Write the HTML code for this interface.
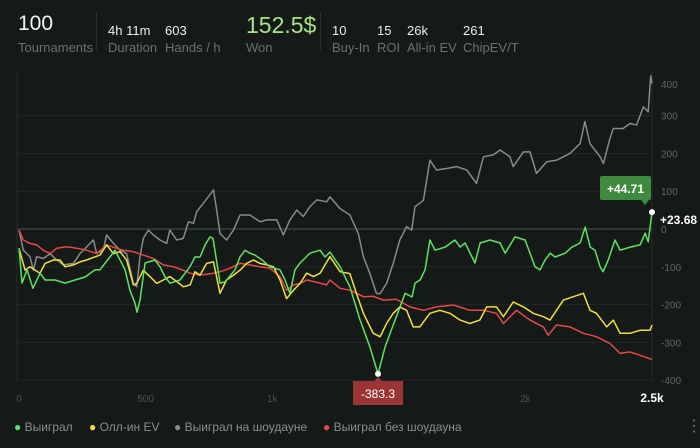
<!DOCTYPE html>
<html><head><meta charset="utf-8">
<style>
html,body{margin:0;padding:0;background:#151917;}
body{width:700px;height:448px;overflow:hidden;position:relative;font-family:"Liberation Sans","Noto Sans CJK SC",sans-serif;}
.t{position:absolute;white-space:nowrap;}
.big{color:#f2f2f2;font-size:21px;}
.val{color:#eee;font-size:13px;}
.lab{color:#6c716e;font-size:13px;}
.div{position:absolute;width:1px;background:#2c312e;top:12px;height:38px;}
</style></head>
<body>
<div>
<div class="t big" style="left:18px;top:12px;">100</div>
<div class="t lab" style="left:18px;top:40px;">Tournaments</div>
<div class="div" style="left:96px"></div>
<div class="t val" style="left:108px;top:23px;">4h 11m</div>
<div class="t lab" style="left:108px;top:40px;">Duration</div>
<div class="t val" style="left:165px;top:23px;">603</div>
<div class="t lab" style="left:165px;top:40px;">Hands / h</div>
<div class="t" style="left:246px;top:12px;color:#a6e583;font-size:23px;">152.5$</div>
<div class="t lab" style="left:246px;top:40px;">Won</div>
<div class="div" style="left:320px"></div>
<div class="t val" style="left:332px;top:23px;">10</div>
<div class="t lab" style="left:332px;top:40px;">Buy-In</div>
<div class="t val" style="left:377px;top:23px;">15</div>
<div class="t lab" style="left:377px;top:40px;">ROI</div>
<div class="t val" style="left:407px;top:23px;">26k</div>
<div class="t lab" style="left:407px;top:40px;">All-in EV</div>
<div class="t val" style="left:463px;top:23px;">261</div>
<div class="t lab" style="left:463px;top:40px;">ChipEV/T</div>
</div>

<svg id="chart" width="700" height="448" style="position:absolute;left:0;top:0"></svg>

<div style="position:absolute;left:0;top:420px;font-size:12px;color:#8b908d;">
<div class="t" style="left:14px;"><span style="color:#5fe35f">●</span> Выиграл</div>
<div class="t" style="left:89px;"><span style="color:#f0e040">●</span> Олл-ин EV</div>
<div class="t" style="left:174px;"><span style="color:#8a8a8a">●</span> Выиграл на шоудауне</div>
<div class="t" style="left:323px;"><span style="color:#e84848">●</span> Выиграл без шоудауна</div>
<div class="t" style="left:686px;top:-4px;font-size:16px;color:#777;">⋮</div>
</div>

<script>
const yTicks=[400,300,200,100,0,-100,-200,-300,-400];
const xTicks=[0,500,1000,2000,2500];
const xTickLabels=["0","500","1k","2k","2.5k"];
const greenHands=[0,12,32,55,83,103,142,182,221,261,300,320,359,379,419,438,458,466,478,498,537,557,577,596,636,675,695,715,735,754,766,786,794,814,853,873,893,912,932,960,991,1031,1051,1070,1090,1110,1149,1189,1209,1228,1268,1307,1347,1386,1418,1446,1485,1505,1525,1552,1564,1584,1604,1623,1643,1683,1722,1742,1762,1801,1821,1860,1900,1920,1959,1999,2038,2058,2078,2098,2117,2157,2184,2216,2236,2256,2275,2295,2307,2327,2354,2374,2414,2453,2473,2485,2500];
const greenValues=[-50,-143,-108,-157,-117,-135,-135,-143,-135,-127,-108,-108,-74,-56,-108,-162,-196,-220,-188,-90,-82,-100,-127,-143,-135,-100,-74,-74,-42,-21,-25,-108,-143,-140,-108,-74,-56,-64,-69,-82,-100,-108,-135,-170,-108,-90,-64,-56,-74,-61,-100,-153,-241,-312,-383.3,-312,-241,-206,-170,-180,-143,-135,-108,-29,-56,-48,-29,-48,-37,-90,-37,-29,-37,-64,-21,-29,-100,-108,-82,-64,-74,-64,-48,-37,5,-48,-56,-100,-113,-82,-29,-56,-48,-42,-11,-34,44.71];
const yellowHands=[0,24,43,83,103,136,162,182,215,241,267,294,320,346,373,399,425,452,465,491,517,544,570,596,623,649,676,695,715,741,768,794,820,847,873,899,926,952,978,1005,1031,1057,1084,1110,1136,1163,1189,1228,1268,1307,1333,1360,1399,1426,1452,1478,1504,1531,1557,1583,1623,1662,1702,1742,1781,1820,1847,1886,1913,1952,1992,2031,2071,2097,2123,2150,2189,2229,2255,2281,2321,2347,2374,2413,2453,2492,2500];
const yellowValues=[-51,-109,-100,-117,-91,-82,-82,-100,-95,-87,-82,-75,-69,-42,-65,-60,-82,-148,-144,-109,-126,-144,-135,-126,-139,-153,-148,-113,-122,-91,-87,-170,-135,-122,-109,-91,-82,-91,-95,-100,-135,-184,-162,-144,-117,-126,-117,-73,-113,-118,-171,-223,-276,-285,-250,-223,-206,-215,-259,-259,-223,-215,-223,-241,-250,-241,-206,-206,-232,-193,-206,-223,-232,-241,-215,-188,-179,-170,-215,-223,-259,-241,-276,-276,-268,-268,-254];
const grayHands=[0,17,43,57,70,96,123,149,175,215,241,281,294,307,333,346,373,399,425,452,465,478,491,511,531,557,583,596,623,649,669,689,702,728,768,781,794,820,847,873,912,952,978,1018,1044,1070,1097,1123,1149,1176,1215,1228,1268,1307,1340,1360,1386,1412,1426,1452,1478,1504,1531,1551,1564,1597,1623,1649,1689,1728,1768,1807,1834,1873,1900,1939,1952,1992,2018,2044,2084,2123,2176,2216,2235,2255,2295,2308,2334,2347,2386,2413,2439,2466,2485,2495,2500];
const grayValues=[-3,-56,-73,-109,-73,-78,-65,-82,-95,-91,-65,-38,-29,-65,-56,-16,-38,-56,-65,-144,-153,-73,-25,-3,-16,-29,-38,-3,-29,-25,19,15,46,68,103,50,-12,-29,-3,37,37,19,24,24,-16,24,50,33,59,77,72,85,54,37,-12,-73,-118,-171,-171,-144,-91,-29,6,-3,59,76,182,156,160,165,156,121,191,196,209,191,165,204,204,147,178,182,200,226,284,226,191,173,240,266,266,279,275,323,310,405,385];
const redHands=[0,17,43,70,96,123,149,188,228,267,307,346,386,412,452,491,531,570,610,649,676,715,768,794,833,873,912,952,991,1031,1057,1084,1110,1136,1163,1215,1228,1268,1307,1360,1399,1439,1491,1544,1597,1649,1715,1781,1834,1886,1913,1965,2018,2071,2090,2123,2176,2229,2281,2334,2374,2413,2453,2500];
const redValues=[-3,-29,-38,-42,-56,-65,-51,-47,-51,-56,-65,-42,-51,-56,-60,-69,-78,-95,-100,-109,-117,-122,-117,-113,-104,-91,-95,-100,-104,-126,-162,-148,-144,-135,-139,-148,-135,-157,-162,-179,-178,-188,-186,-206,-215,-206,-201,-215,-215,-223,-250,-215,-241,-259,-281,-254,-259,-276,-285,-303,-329,-325,-334,-345];

const svg=document.getElementById('chart');
const NS='http://www.w3.org/2000/svg';
const X0=19,X1=652,Y0=229,PX=0.378;
function xs(h){return X0+h*(X1-X0)/2500;}
function ys(v){return Y0-v*PX;}
function mk(tag,attrs){const e=document.createElementNS(NS,tag);for(const k in attrs)e.setAttribute(k,attrs[k]);svg.appendChild(e);return e;}

let e=mk('line',{x1:17,x2:17,y1:72,y2:382,stroke:'#262b28'});


e=mk('line',{x1:X1,x2:X1,y1:72,y2:382,stroke:'#262b28'});


yTicks.forEach(v=>{
  const y=ys(v);
  if(v!==400){
    const g=mk('line',{x1:17,x2:X1,y1:y,y2:y,stroke:v===0?'#3b403d':'#232826','stroke-width':v===0?1.5:1});
    
    
  }
  const t=mk('text',{x:661,y:(v===400?ys(v)+10:y+4),fill:'#62676a','font-size':'10','font-family':'Liberation Sans, sans-serif'});
  t.textContent=String(v);
  
  
});
xTicks.forEach((v,i)=>{
  const last=i===xTicks.length-1;
  const t=mk('text',{x:xs(v),y:402,fill:last?'#ffffff':'#4e5351','font-size':last?'12':'10','font-weight':last?'bold':'normal','text-anchor':'middle','font-family':'Liberation Sans, sans-serif'});
  t.textContent=xTickLabels[i];
  
  
});
function series(hands,vals,color,name){
  const d=hands.map((h,i)=>(i?'L':'M')+xs(h).toFixed(1)+' '+ys(vals[i]).toFixed(1)).join(' ');
  const p=mk('path',{d:d,fill:'none',stroke:color,'stroke-width':1.5,'stroke-linejoin':'round'});
  
  
}
series(grayHands,grayValues,'#8a8a8a','series-showdown');
series(redHands,redValues,'#e84848','series-no-showdown');
series(yellowHands,yellowValues,'#f0e040','series-allin-ev');
series(greenHands,greenValues,'#5fe35f','series-won');

// min marker
const minI=greenValues.indexOf(Math.min(...greenValues));
const mx=xs(greenHands[minI]),my=ys(greenValues[minI]);
e=mk('circle',{cx:mx,cy:my,r:3,fill:'#fff'});


e=mk('path',{d:`M${mx-25} 381 H${mx-4} L${mx} 377 L${mx+4} 381 H${mx+25} V405 H${mx-25} Z`,fill:'#9b3535'});


e=mk('text',{x:mx,y:398,fill:'#fff','font-size':'12','text-anchor':'middle','font-family':'Liberation Sans, sans-serif'});
e.textContent=greenValues[minI].toFixed(1);


// end marker
const li=greenValues.length-1;
const ex=xs(greenHands[li]),ey=ys(greenValues[li]);
e=mk('path',{d:`M600 178 Q600 176 602 176 H649 Q651 176 651 178 V198 Q651 200 649 200 H649 L645 205 L641 200 H602 Q600 200 600 198 Z`,fill:'#3e8a3e'});


e=mk('text',{x:625.5,y:193,fill:'#fff','font-size':'12','font-weight':'bold','text-anchor':'middle','font-family':'Liberation Sans, sans-serif'});
e.textContent='+'+greenValues[li].toFixed(2);


e=mk('circle',{cx:ex,cy:ey,r:3,fill:'#fff'});


e=mk('text',{x:660,y:224,fill:'#fff','font-size':'12','font-weight':'bold','font-family':'Liberation Sans, sans-serif'});
e.textContent='+23.68';


</script>
</body></html>
